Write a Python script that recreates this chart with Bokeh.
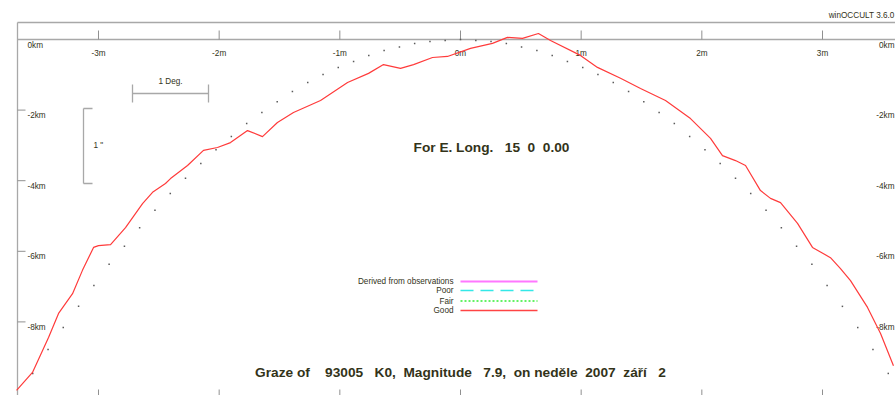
from bokeh.plotting import figure
from bokeh.models import Range1d
from bokeh.embed import file_html
from bokeh.resources import INLINE
from bokeh.core.properties import value

# ---------------- data ----------------
minute_ticks = [-3, -2, -1, 0, 1, 2, 3]
minute_labels = ["-3m", "-2m", "-1m", "0m", "1m", "2m", "3m"]
km_ticks = [0, -2, -4, -6, -8]
km_labels = ["0km", "-2km", "-4km", "-6km", "-8km"]

# "Good" limb profile (minutes, km)
good_x = [-3.679, -3.547, -3.414, -3.331, -3.215, -3.133, -3.041, -3.000, -2.900, -2.776,
          -2.635, -2.552, -2.445, -2.403, -2.262, -2.130, -2.014, -1.906, -1.765, -1.641,
          -1.517, -1.384, -1.160, -0.936, -0.762, -0.638, -0.497, -0.389, -0.232, -0.108,
          0.083, 0.265, 0.389, 0.514, 0.646, 0.746, 0.994, 1.135, 1.326, 1.492,
          1.699, 1.906, 2.072, 2.171, 2.279, 2.362, 2.486, 2.569, 2.652, 2.793,
          2.917, 3.066, 3.149, 3.232, 3.373, 3.481, 3.588]
good_y = [-9.94, -9.43, -8.44, -7.76, -7.20, -6.54, -5.89, -5.84, -5.81, -5.33,
          -4.65, -4.33, -4.08, -3.94, -3.57, -3.14, -3.06, -2.92, -2.58, -2.75,
          -2.35, -2.07, -1.73, -1.22, -0.96, -0.71, -0.82, -0.71, -0.51, -0.48,
          -0.25, -0.11, 0.06, 0.03, 0.17, -0.03, -0.45, -0.79, -1.10, -1.39,
          -1.73, -2.24, -2.80, -3.29, -3.43, -3.57, -4.28, -4.50, -4.62, -5.21,
          -5.89, -6.18, -6.49, -6.83, -7.59, -8.33, -9.24]

# "Fair" (dotted) mean limb
fair_x = [-3.545, -3.418, -3.292, -3.165, -3.038, -2.912, -2.785, -2.659, -2.532, -2.405,
          -2.279, -2.152, -2.026, -1.899, -1.772, -1.646, -1.519, -1.393, -1.266, -1.139,
          -1.013, -0.886, -0.760, -0.633, -0.506, -0.380, -0.253, -0.127, 0.0,
          0.127, 0.253, 0.380, 0.506, 0.633, 0.760, 0.886, 1.013, 1.139, 1.266,
          1.393, 1.519, 1.646, 1.772, 1.899, 2.026, 2.152, 2.279, 2.405, 2.532,
          2.659, 2.785, 2.912, 3.038, 3.165, 3.292, 3.418, 3.545]
fair_y = [-9.46, -8.78, -8.16, -7.56, -6.97, -6.37, -5.86, -5.33, -4.84, -4.36,
          -3.93, -3.51, -3.12, -2.75, -2.38, -2.07, -1.76, -1.47, -1.22, -0.99,
          -0.79, -0.62, -0.45, -0.31, -0.21, -0.11, -0.06, -0.03, 0.0,
          -0.03, -0.06, -0.11, -0.21, -0.31, -0.45, -0.62, -0.79, -0.99, -1.22,
          -1.47, -1.76, -2.07, -2.38, -2.75, -3.12, -3.51, -3.93, -4.36, -4.84,
          -5.33, -5.86, -6.37, -6.97, -7.56, -8.16, -8.78, -9.46]

legend_names = ["Derived from observations", "Poor", "Fair", "Good"]
NB = "\u00a0"
title_text = ("Graze of" + NB * 4 + "93005" + NB * 3 + "K0," + NB * 2 + "Magnitude" + NB * 3
              + "7.9," + NB * 2 + "on neděle" + NB * 2 + "2007" + NB * 2 + "září" + NB * 3 + "2")
long_text = "For E. Long." + NB * 3 + "15" + NB * 2 + "0" + NB * 2 + "0.00"
version_text = "winOCCULT 3.6.0"

# ---------------- layout helpers (page pixels -> data) ----------------
X0, SX, Y0, SY = 460.0, 120.67, 39.0, 35.3
def X(px):
    return (px - X0) / SX
def Y(py):
    return -(py - Y0) / SY

TXT = "#333319"
GREY = "#a8a8a8"
FONT = value("Liberation Sans")
SMALL = "8.2px"
BIG = "13.7px"

p = figure(width=895, height=395, output_backend="svg", toolbar_location=None,
           x_range=Range1d(X(0), X(895)), y_range=Range1d(Y(395), Y(0)),
           x_axis_type=None, y_axis_type=None, min_border=0)
p.outline_line_color = None
p.background_fill_color = "white"
p.border_fill_color = "white"

# frame lines
p.segment(x0=[X(17), X(17)], y0=[Y(22), Y(22)], x1=[X(895), X(17)], y1=[Y(22), Y(395)],
          line_color=GREY, line_width=1.3)
p.segment(x0=[X(17)], y0=[km_ticks[0]], x1=[X(895)], y1=[km_ticks[0]],
          line_color=GREY, line_width=1.3)

# minute ticks top and bottom
n = len(minute_ticks)
p.segment(x0=minute_ticks, y0=[Y(30)] * n, x1=minute_ticks, y1=[0] * n,
          line_color="#909090", line_width=1)
p.segment(x0=minute_ticks, y0=[Y(389)] * n, x1=minute_ticks, y1=[Y(396)] * n,
          line_color="#909090", line_width=1)
p.text(x=minute_ticks, y=[Y(53)] * n, text=minute_labels, text_align="center",
       text_baseline="middle", text_font=FONT, text_font_size=SMALL, text_color=TXT)

# km ticks and labels
m = len(km_ticks)
p.segment(x0=[X(17)] * (m - 1), y0=km_ticks[1:], x1=[X(25)] * (m - 1), y1=km_ticks[1:],
          line_color="#909090", line_width=1)
p.text(x=[X(27)] * m, y=km_ticks, text=km_labels, text_align="left", text_baseline="top",
       y_offset=1, text_font=FONT, text_font_size=SMALL, text_color=TXT)
p.text(x=[X(894)] * m, y=km_ticks, text=km_labels, text_align="right", text_baseline="top",
       y_offset=1, text_font=FONT, text_font_size=SMALL, text_color=TXT)

# scale bars
p.segment(x0=[X(132), X(132), X(208)], y0=[Y(93), Y(84), Y(84)],
          x1=[X(208), X(132), X(208)], y1=[Y(93), Y(102), Y(102)],
          line_color=GREY, line_width=1.3)
p.text(x=[X(170)], y=[Y(81)], text=["1 Deg."], text_align="center", text_baseline="middle",
       text_font=FONT, text_font_size=SMALL, text_color=TXT)
p.segment(x0=[X(83), X(83), X(83)], y0=[Y(108), Y(108), Y(183)],
          x1=[X(83), X(92), X(92)], y1=[Y(183), Y(108), Y(183)],
          line_color=GREY, line_width=1.3)
p.text(x=[X(93)], y=[Y(145)], text=['1 "'], text_align="left", text_baseline="middle",
       text_font=FONT, text_font_size=SMALL, text_color=TXT)

# profiles
p.scatter(fair_x, fair_y, marker="square", size=1.5, fill_color="#5a5a5a", line_color=None)
p.line(good_x, good_y, line_color="#ff3b3b", line_width=1.2, line_join="round")

# legend (manual)
leg_py = [281, 290, 300.5, 310]
p.text(x=[X(453)] * 4, y=[Y(v) for v in leg_py], text=legend_names, text_align="right",
       text_baseline="middle", text_font=FONT, text_font_size=SMALL, text_color=TXT)
p.segment(x0=[X(460)], y0=[Y(281)], x1=[X(537)], y1=[Y(281)], line_color="#ff77ff", line_width=2)
p.segment(x0=[X(460)], y0=[Y(290)], x1=[X(537)], y1=[Y(290)], line_color="#33e8e8",
          line_width=1.5, line_dash="13 7")
p.segment(x0=[X(460)], y0=[Y(300.5)], x1=[X(537)], y1=[Y(300.5)], line_color="#33ee33",
          line_width=1.5, line_dash="2 2")
p.segment(x0=[X(460)], y0=[Y(310)], x1=[X(537)], y1=[Y(310)], line_color="#ff4444", line_width=1.3)

# titles
p.text(x=[X(491)], y=[Y(147)], text=[long_text], text_align="center", text_baseline="middle",
       text_font=FONT, text_font_size=BIG, text_font_style="bold", text_color=TXT)
p.text(x=[X(460)], y=[Y(372)], text=[title_text], text_align="center", text_baseline="middle",
       text_font=FONT, text_font_size=BIG, text_font_style="bold", text_color=TXT)
p.text(x=[X(894)], y=[Y(15)], text=[version_text], text_align="right", text_baseline="middle",
       text_font=FONT, text_font_size=SMALL, text_color=TXT)

open("out.html", "w").write(file_html(p, INLINE))
